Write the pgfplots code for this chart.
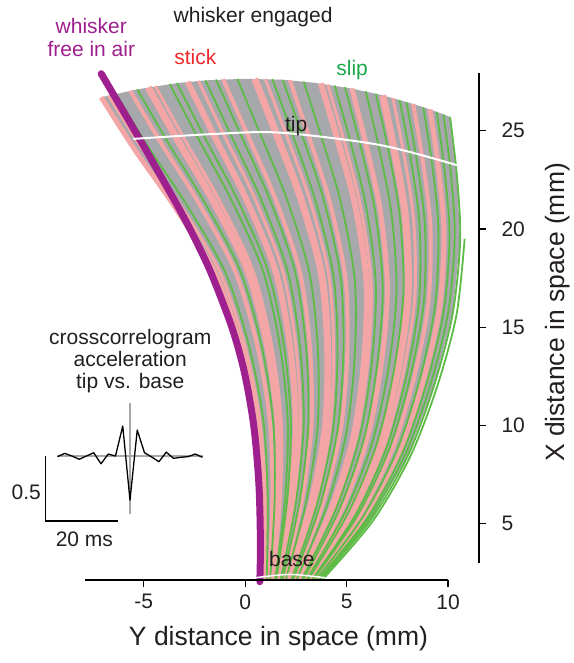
\documentclass[border=0pt]{standalone}
\usepackage{pgfplots}
\pgfplotsset{compat=1.18}
\usepackage{fontspec}
\setmainfont{Liberation Sans}
\definecolor{pinkc}{HTML}{F4A6A6}
\definecolor{greenc}{HTML}{5DBB46}
\definecolor{grayc}{HTML}{A6A8AB}
\definecolor{purplec}{HTML}{9E1F8E}
\definecolor{txt}{HTML}{231F20}
\definecolor{redtxt}{HTML}{EE2A2B}
\definecolor{greentxt}{HTML}{1BA84A}
\begin{document}
\begin{tikzpicture}[font=\fontsize{21}{25}\selectfont]
\path[use as bounding box] (-85pt,-83pt) rectangle (488pt,580pt);
\begin{axis}[
  at={(0pt,0pt)}, anchor=south west,
  scale only axis, width=394pt, height=506.7pt,
  xmin=-7.9, xmax=11.527, ymin=2.137, ymax=27.92,
  clip=false,
  axis x line*=bottom, axis y line*=right,
  axis line style={draw=none},
  xtick={-5,0,5,10}, ytick={5,10,15,20,25},
  tick align=outside, major tick length=7pt,
  tick style={line width=1.2pt, color=black},
  ticklabel style={font=\fontsize{21}{25}\selectfont, text=txt},
  /pgf/number format/assume math mode=true,
  xticklabel style={yshift=-4pt},
  yticklabel style={xshift=12pt},
]
% gray bundle
\addplot[fill=grayc, draw=none] coordinates {
 (0.95,2.2) (0.88,6.25) (0.57,10.19) (-0.23,14.05) (-1.5,17.78) (-3.51,21.18) (-5.43,24.01) (-7.1,26.7)
 (-5.32,27.10) (-3.37,27.42) (-1.96,27.56) (-0.05,27.64) (1.85,27.59) (3.39,27.44) (5.26,27.14) (6.78,26.80) (8.28,26.36) (9.44,25.96)
 (10.1,25.7) (10.44,22.7) (10.6,19.45) (10.23,15.68) (9.31,12.02) (8.02,8.46) (6.19,5.19) (3.75,2.2)} -- cycle;
% stick (pink)
\pgfplotsset{pk/.style={pinkc, line width=#1, smooth}, gr/.style={greenc, line width=1.8pt, smooth}}
\addplot[pk=5pt] coordinates {(0.95,2.2) (0.88,6.25) (0.57,10.19) (-0.23,14.05) (-1.5,17.78) (-3.51,21.18) (-5.43,24.01) (-7.1,26.7)};
\addplot[pk=3pt] coordinates {(1.01,2.2) (1.00,6.25) (0.73,10.19) (-0.02,14.06) (-1.25,17.81) (-3.21,21.23) (-5.10,24.09) (-6.74,26.79)};
\addplot[pk=4pt] coordinates {(1.17,2.2) (1.34,6.24) (1.22,10.18) (0.59,14.08) (-0.50,17.86) (-2.32,21.37) (-4.10,24.29) (-5.67,27.03)};
\addplot[pk=7pt] coordinates {(1.31,2.2) (1.62,6.23) (1.62,10.17) (1.10,14.08) (0.13,17.89) (-1.59,21.45) (-3.28,24.43) (-4.78,27.20)};
\addplot[pk=3pt] coordinates {(1.37,2.2) (1.73,6.22) (1.78,10.16) (1.30,14.08) (0.37,17.90) (-1.29,21.48) (-2.95,24.48) (-4.43,27.26)};
\addplot[pk=6pt] coordinates {(1.62,2.2) (2.23,6.18) (2.49,10.10) (2.21,14.04) (1.48,17.90) (0.02,21.57) (-1.48,24.64) (-2.84,27.48)};
\addplot[pk=3pt] coordinates {(1.71,2.2) (2.40,6.16) (2.72,10.08) (2.50,14.01) (1.84,17.88) (0.46,21.58) (-1.00,24.68) (-2.31,27.53)};
\addplot[pk=4pt] coordinates {(1.90,2.2) (2.78,6.11) (3.27,10.01) (3.19,13.94) (2.69,17.83) (1.47,21.58) (0.14,24.73) (-1.09,27.62)};
\addplot[pk=7pt] coordinates {(2.15,2.2) (3.27,6.04) (3.95,9.89) (4.07,13.81) (3.76,17.71) (2.75,21.51) (1.58,24.72) (0.47,27.64)};
\addplot[pk=3pt] coordinates {(2.24,2.2) (3.43,6.01) (4.18,9.84) (4.36,13.76) (4.12,17.66) (3.18,21.48) (2.06,24.70) (0.99,27.63)};
\addplot[pk=4pt] coordinates {(2.43,2.2) (3.80,5.94) (4.70,9.72) (5.03,13.62) (4.94,17.51) (4.17,21.36) (3.17,24.61) (2.20,27.57)};
\addplot[pk=6pt] coordinates {(2.69,2.2) (4.28,5.83) (5.36,9.54) (5.87,13.40) (5.98,17.28) (5.43,21.14) (4.59,24.42) (3.73,27.40)};
\addplot[pk=3pt] coordinates {(2.74,2.2) (4.38,5.80) (5.50,9.50) (6.06,13.35) (6.21,17.22) (5.70,21.09) (4.90,24.37) (4.07,27.35)};
\addplot[pk=5pt] coordinates {(2.94,2.2) (4.74,5.70) (6.01,9.33) (6.71,13.14) (7.01,16.99) (6.67,20.86) (5.99,24.15) (5.26,27.14)};
\addplot[pk=7pt] coordinates {(3.19,2.2) (5.20,5.56) (6.65,9.09) (7.53,12.84) (8.03,16.64) (7.91,20.50) (7.39,23.79) (6.78,26.80)};
\addplot[pk=3pt] coordinates {(3.27,2.2) (5.35,5.51) (6.86,9.01) (7.80,12.73) (8.36,16.52) (8.31,20.37) (7.85,23.66) (7.28,26.66)};
\addplot[pk=4pt] coordinates {(3.44,2.2) (5.65,5.41) (7.27,8.83) (8.34,12.50) (9.03,16.24) (9.13,20.07) (8.77,23.35) (8.28,26.36)};
\addplot[pk=5pt] coordinates {(3.58,2.2) (5.90,5.31) (7.61,8.67) (8.78,12.29) (9.58,16.00) (9.80,19.80) (9.53,23.07) (9.11,26.08)};
% slip (green)
\addplot[gr] coordinates {(1.06,2.2) (1.11,6.25) (0.90,10.19) (0.18,14.07) (-1.00,17.83) (-2.92,21.28) (-4.77,24.16) (-6.38,26.88)};
\addplot[gr] coordinates {(1.23,2.2) (1.45,6.23) (1.38,10.18) (0.80,14.08) (-0.25,17.88) (-2.03,21.40) (-3.78,24.35) (-5.32,27.10)};
\addplot[gr] coordinates {(1.48,2.2) (1.96,6.20) (2.10,10.14) (1.71,14.06) (0.86,17.90) (-0.71,21.53) (-2.30,24.56) (-3.72,27.37)};
\addplot[gr] coordinates {(1.54,2.2) (2.07,6.19) (2.25,10.13) (1.91,14.06) (1.11,17.90) (-0.41,21.55) (-1.97,24.60) (-3.37,27.42)};
\addplot[gr] coordinates {(1.76,2.2) (2.51,6.15) (2.88,10.06) (2.70,14.00) (2.08,17.87) (0.75,21.58) (-0.67,24.70) (-1.96,27.56)};
\addplot[gr] coordinates {(1.85,2.2) (2.68,6.13) (3.11,10.03) (3.00,13.97) (2.45,17.85) (1.18,21.58) (-0.19,24.72) (-1.44,27.60)};
\addplot[gr] coordinates {(2.01,2.2) (3.00,6.08) (3.57,9.96) (3.58,13.89) (3.16,17.78) (2.04,21.56) (0.78,24.74) (-0.39,27.64)};
\addplot[gr] coordinates {(2.29,2.2) (3.54,5.99) (4.33,9.81) (4.55,13.73) (4.35,17.62) (3.46,21.45) (2.38,24.68) (1.34,27.62)};
\addplot[gr] coordinates {(2.38,2.2) (3.70,5.96) (4.55,9.76) (4.84,13.67) (4.70,17.56) (3.89,21.40) (2.85,24.64) (1.85,27.59)};
\addplot[gr] coordinates {(2.55,2.2) (4.02,5.89) (4.99,9.65) (5.40,13.53) (5.40,17.42) (4.73,21.27) (3.80,24.54) (2.88,27.50)};
\addplot[gr] coordinates {(2.80,2.2) (4.48,5.77) (5.65,9.45) (6.25,13.29) (6.44,17.16) (5.98,21.03) (5.22,24.31) (4.41,27.30)};
\addplot[gr] coordinates {(2.88,2.2) (4.64,5.73) (5.87,9.38) (6.52,13.21) (6.78,17.06) (6.40,20.93) (5.68,24.22) (4.92,27.21)};
\addplot[gr] coordinates {(3.05,2.2) (4.95,5.64) (6.29,9.23) (7.08,13.02) (7.46,16.84) (7.22,20.71) (6.62,24.00) (5.94,27.00)};
\addplot[gr] coordinates {(3.13,2.2) (5.10,5.60) (6.51,9.15) (7.35,12.91) (7.80,16.73) (7.63,20.59) (7.08,23.88) (6.44,26.88)};
\addplot[gr] coordinates {(3.33,2.2) (5.45,5.48) (6.99,8.95) (7.98,12.66) (8.58,16.43) (8.59,20.27) (8.16,23.56) (7.61,26.56)};
\addplot[gr] coordinates {(3.39,2.2) (5.55,5.44) (7.13,8.89) (8.16,12.58) (8.81,16.34) (8.86,20.17) (8.46,23.46) (7.95,26.46)};
\addplot[gr] coordinates {(3.53,2.2) (5.80,5.35) (7.48,8.73) (8.61,12.37) (9.36,16.10) (9.53,19.91) (9.23,23.19) (8.78,26.19)};
\addplot[gr] coordinates {(3.64,2.2) (6.00,5.27) (7.75,8.60) (8.96,12.20) (9.80,15.90) (10.07,19.69) (9.83,22.95) (9.44,25.96)};
\addplot[gr] coordinates {(3.69,2.2) (6.09,5.23) (7.89,8.53) (9.14,12.11) (10.01,15.79) (10.33,19.57) (10.14,22.83) (9.77,25.83)};
\addplot[gr] coordinates {(3.75,2.2) (6.19,5.19) (8.02,8.46) (9.31,12.02) (10.23,15.68) (10.6,19.45) (10.44,22.7) (10.1,25.7)};
\addplot[gr] coordinates {(3.85,2.2) (6.3,5.15) (8.15,8.45) (9.47,12.0) (10.42,15.65) (10.82,19.5)};
% whisker free in air
\addplot[purplec, line width=7pt, smooth, line cap=round] coordinates {(0.72,2.05) (0.75,4) (0.675,7) (0.42,10) (-0.04,12.7) (-0.66,15) (-1.66,17.7) (-2.43,19.4) (-3.24,21) (-5.11,24.4) (-7.1,27.9)};
% tip and base lines
\addplot[white, line width=2pt, smooth] coordinates {(-5.52,24.58) (-1.58,24.83) (1.72,24.9) (6.65,24.27) (10.59,23.2)};
\addplot[white, line width=1.5pt, smooth] coordinates {(0.5,2.25) (2.2,2.42) (3.95,2.25)};
% axis lines
\draw[line width=1.2pt] (axis cs:-7.9,2.137) -- (axis cs:10,2.137);
\draw[line width=1.2pt] (axis cs:11.527,3.0) -- (axis cs:11.527,27.92);
% texts
\node[anchor=base, text=txt] at (axis cs:0.39,30.48) {whisker engaged};
\node[anchor=base, text=purplec] at (axis cs:-7.59,29.96) {whisker};
\node[anchor=base, text=purplec] at (axis cs:-7.59,28.77) {free in air};
\node[anchor=base, text=redtxt] at (axis cs:-2.46,28.35) {stick};
\node[anchor=base, text=greentxt] at (axis cs:5.27,27.79) {slip};
\node[anchor=base, text=txt] at (axis cs:2.51,24.96) {tip};
\node[anchor=base, text=txt] at (axis cs:2.30,2.80) {base};
\node[anchor=base, text=txt] at (axis cs:-5.67,14.10) {crosscorrelogram};
\node[anchor=base, text=txt] at (axis cs:-5.67,12.99) {acceleration};
\node[anchor=base, text=txt] at (axis cs:-5.67,11.89) {tip vs. base};
\node[anchor=base east, text=txt] at (axis cs:-9.9,6.21) {0.5};
\node[anchor=base, text=txt] at (axis cs:-7.93,3.83) {20 ms};
\node[anchor=base, text=txt, font=\fontsize{26.5}{30}\selectfont] at (axis cs:1.64,-1.22) {Y distance in space (mm)};
\node[rotate=90, text=txt, font=\fontsize{26.5}{30}\selectfont] at (axis cs:15.42,15.75) {X distance in space (mm)};
\end{axis}
% inset crosscorrelogram
\begin{axis}[at={(-39.3pt,59pt)}, anchor=south west, scale only axis,
  width=156.8pt, height=123.5pt, xmin=-23.25, xmax=20, ymin=-0.5, ymax=0.45,
  hide axis, clip=false]
\addplot[grayc, line width=1.5pt] coordinates {(-20,0) (20,0)};
\addplot[grayc, line width=1.5pt] coordinates {(0,0.41) (0,-0.45)};
\addplot[black, line width=1.3pt, line join=round] coordinates {
 (-20,-0.005) (-18,0.02) (-16,0.0) (-14,-0.025) (-12,0.0) (-10,0.025) (-8,-0.06) (-6,0.015) (-4,0.0)
 (-2,0.23) (0,-0.34) (2,0.2) (4,0.025) (6,-0.008) (8,-0.044) (10,0.03) (12,-0.018) (14,-0.01)
 (16,-0.005) (18,0.015) (20,-0.01)};
\addplot[black, line width=1.3pt] coordinates {(-23.25,0) (-23.25,-0.5) (-3.25,-0.5)};
\end{axis}
\end{tikzpicture}
\end{document}
